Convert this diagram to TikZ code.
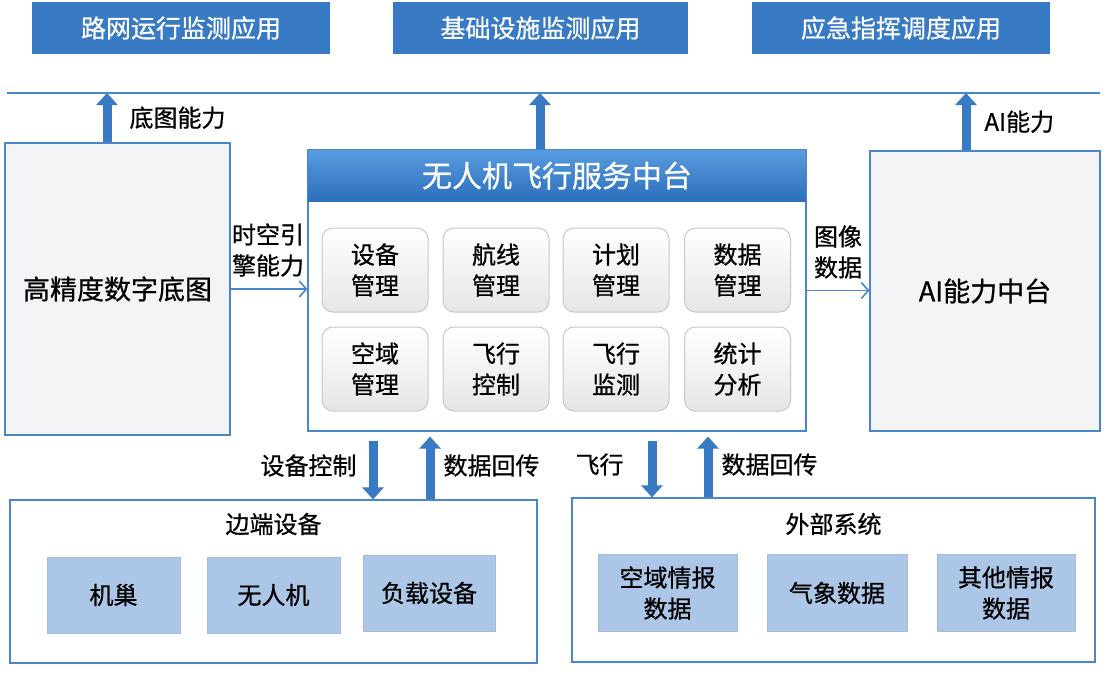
\documentclass[tikz,border=0pt]{standalone}
\usepackage{fontspec}
\setmainfont{Noto Sans CJK SC}[FakeBold=0.7]
\usepackage{xcolor}
\usetikzlibrary{arrows.meta,positioning,calc}

\definecolor{appblue}{RGB}{56,122,196}
\definecolor{lineblue}{RGB}{76,134,202}
\definecolor{panelgray}{RGB}{243,244,246}
\definecolor{cellblue}{RGB}{172,198,232}
\definecolor{btnedge}{RGB}{196,200,206}
\definecolor{hdrtop}{RGB}{88,156,224}
\definecolor{hdrbot}{RGB}{44,110,186}

\begin{document}
\begin{tikzpicture}[x=1pt,y=-1pt,
	font=\fontsize{24}{31}\selectfont,
	appbox/.style={fill=appblue,text=white,minimum width=298pt,minimum height=52pt,inner sep=0pt,font=\fontsize{25}{30}\selectfont},
	panel/.style={draw=lineblue,line width=1.2pt,fill=panelgray,inner sep=0pt,font=\fontsize{27}{32}\selectfont},
	outerbox/.style={draw=lineblue,line width=1.2pt,fill=white,inner sep=0pt},
	cell/.style={fill=cellblue,draw=cellblue!85!gray,line width=0.5pt,minimum height=76pt,align=center,inner sep=0pt},
	btn/.style={draw=btnedge,line width=1pt,rounded corners=11pt,top color=white,bottom color=gray!20,minimum width=106pt,minimum height=84pt,align=center,inner sep=0pt},
	bigarrow/.style={draw=appblue,line width=9pt,-{Triangle[length=12pt,width=21pt]}},
	flowarrow/.style={draw=lineblue,line width=1.6pt,-{Straight Barb[length=7pt,width=16pt]}},
	lbl/.style={inner sep=0pt,align=center}]
	\useasboundingbox (0,0) rectangle (1107,673);

	% application layer
	\node[appbox] (app1) at (181,28) {路网运行监测应用};
	\node[appbox,minimum width=295pt] (app2) at (540.5,28) {基础设施监测应用};
	\node[appbox] (app3) at (901,28) {应急指挥调度应用};
	\coordinate (busL) at (7,93);
	\coordinate (busR) at (1100,93);
	\draw[lineblue,line width=1.2pt] (busL) -- (busR);

	% middle layer
	\node[panel,minimum width=225pt,minimum height=292pt] (mapbox) at (117.5,289) {高精度数字底图};
	\node[outerbox,minimum width=498pt,minimum height=281pt] (platform) at (557,290.5) {};
	\node[top color=hdrtop,bottom color=hdrbot,text=white,minimum width=498pt,minimum height=52pt,inner sep=0pt,
		font=\fontsize{30}{36}\selectfont,anchor=north] (platformhead) at (platform.north) {无人机飞行服务中台};
	\draw[lineblue,line width=1.2pt] (platform.north west) rectangle (platform.south east);
	\node[panel,minimum width=230pt,minimum height=280pt] (aibox) at (985,291) {AI能力中台};

	% function buttons
	\node[btn] (devmgr) at (375,270) {设备\\管理};
	\node[btn] (routemgr) at (496,270) {航线\\管理};
	\node[btn] (planmgr) at (616,270) {计划\\管理};
	\node[btn] (datamgr) at (737.5,270) {数据\\管理};
	\node[btn] (airmgr) at (375,369) {空域\\管理};
	\node[btn] (flyctrl) at (496,369) {飞行\\控制};
	\node[btn] (flymon) at (616,369) {飞行\\监测};
	\node[btn] (stats) at (737.5,369) {统计\\分析};

	% arrows up to the bus
	\coordinate (up1) at (107,93);
	\coordinate (up2) at (540,93);
	\coordinate (up3) at (966,93);
	\draw[bigarrow] (up1 |- mapbox.north) -- (up1) node[lbl,pos=0.5,right=18pt] {底图能力};
	\draw[bigarrow] (up2 |- platform.north) -- (up2);
	\draw[bigarrow] (up3 |- aibox.north) -- (up3) node[lbl,pos=0.5,right=14pt] {AI能力};

	% side flows
	\draw[flowarrow] (mapbox.east) -- (mapbox.east -| platform.west);
	\node[lbl] (maplbl) at (268,250) {时空引\\擎能力};
	\draw[flowarrow] (platform.east) -- (platform.east -| aibox.west);
	\node[lbl] (imglbl) at (838,252) {图像\\数据};

	% bottom layer
	\node[outerbox,minimum width=527pt,minimum height=163pt] (edgebox) at (273.5,581.5) {};
	\node[lbl] (edgetitle) at (273.5,524) {边端设备};
	\node[cell,minimum width=133pt] (nest) at (113.5,595) {机巢};
	\node[cell,minimum width=133pt] (uav) at (273.5,595) {无人机};
	\node[cell,minimum width=132pt] (payload) at (429,593) {负载设备};

	\node[outerbox,minimum width=523pt,minimum height=164pt] (extbox) at (833.5,580) {};
	\node[lbl] (exttitle) at (833.5,524) {外部系统};
	\node[cell,minimum width=139pt,minimum height=77pt] (airinfo) at (667.5,593) {空域情报\\数据};
	\node[cell,minimum width=140pt,minimum height=77pt] (weather) at (837,593) {气象数据};
	\node[cell,minimum width=138pt,minimum height=77pt] (otherinfo) at (1006,593) {其他情报\\数据};

	% arrows between platform and bottom
	\coordinate (d1) at (373,0);
	\coordinate (u1) at (430,0);
	\coordinate (d2) at (652,0);
	\coordinate (u2) at (708,0);
	\draw[bigarrow,shorten <=9pt] (d1 |- platform.south) -- (d1 |- edgebox.north)
		node[lbl,pos=0.5,left=12pt] {设备控制};
	\draw[bigarrow,shorten >=5pt] (u1 |- edgebox.north) -- (u1 |- platform.south)
		node[lbl,pos=0.5,right=9pt] {数据回传};
	\draw[bigarrow,shorten <=9pt] (d2 |- platform.south) -- (d2 |- extbox.north)
		node[lbl,pos=0.5,left=24pt] {飞行};
	\draw[bigarrow,shorten >=5pt] (u2 |- extbox.north) -- (u2 |- platform.south)
		node[lbl,pos=0.5,right=9pt] {数据回传};
\end{tikzpicture}
\end{document}
